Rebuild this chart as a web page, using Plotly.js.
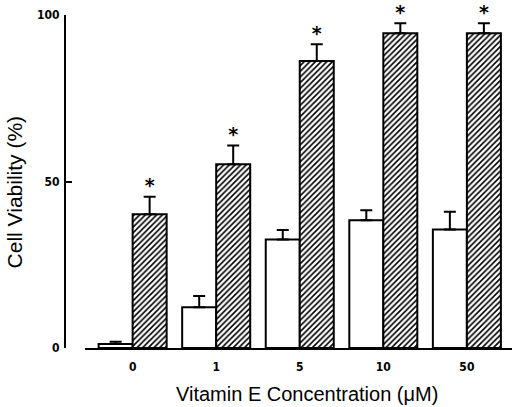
<!DOCTYPE html>
<html>
<head>
<meta charset="utf-8">
<script src="https://cdn.plot.ly/plotly-3.0.1.min.js"></script>
<style>html,body{margin:0;padding:0;background:#fff;}#chart{width:512px;height:407px;}</style>
</head>
<body>
<div id="chart"></div>
<script>
const categories = ['0', '1', '5', '10', '50'];
const controlValues = [1.2, 12.2, 32.6, 38.4, 35.6];
const controlErrors = [0.7, 3.4, 2.8, 3.0, 5.3];
const vitEValues = [40.2, 55.2, 86.2, 94.5, 94.5];
const vitEErrors = [5.2, 5.6, 5.0, 3.0, 3.0];
const significant = [true, true, true, true, true];
const yTickValues = [0, 50, 100];
const xTitle = 'Vitamin E Concentration (\u03BCM)';
const yTitle = 'Cell Viability (%)';

const bargap = 0.186;
const xIdx = categories.map((c, i) => i);
const barOffset = (1 - bargap) / 4;
const zeros = categories.map(() => 0);

const control = {
  type: 'bar', x: xIdx, y: controlValues, name: 'Control',
  marker: {color: 'white', line: {color: 'black', width: 2}},
  error_y: {type: 'data', symmetric: false, array: controlErrors, arrayminus: zeros,
            color: 'black', thickness: 2, width: 6},
  hoverinfo: 'skip'
};
const vitE = {
  type: 'bar', x: xIdx, y: vitEValues, name: 'Vitamin E',
  marker: {color: 'white', line: {color: 'black', width: 2},
           pattern: {shape: '/', fgcolor: 'black', bgcolor: 'white', size: 4, solidity: 0.4}},
  error_y: {type: 'data', symmetric: false, array: vitEErrors, arrayminus: zeros,
            color: 'black', thickness: 2, width: 6},
  hoverinfo: 'skip'
};
const starX = [], starY = [];
significant.forEach((s, i) => { if (s) { starX.push(i + barOffset); starY.push(vitEValues[i] + vitEErrors[i]); } });
const stars = {
  type: 'scatter', mode: 'text', x: starX, y: starY, text: starX.map(() => '*'),
  textposition: 'top center', textfont: {family: 'DejaVu Sans', size: 19, weight: 'bold', color: 'black'},
  hoverinfo: 'skip', cliponaxis: false
};

const tickFont = {family: 'Liberation Sans Narrow, DejaVu Sans Condensed', size: 12, weight: 'bold', color: 'black'};
const titleFont = {family: 'Liberation Sans, Arial', size: 20, color: 'black'};

const layout = {
  width: 512, height: 407,
  margin: {l: 65, r: 0, t: 15, b: 59},
  paper_bgcolor: 'white', plot_bgcolor: 'white',
  showlegend: false,
  barmode: 'group', bargap: bargap, bargroupgap: 0,
  xaxis: {
    domain: [20 / 447, 1], range: [-0.57, 4.54],
    tickvals: xIdx, ticktext: categories, ticks: '',
    showline: true, linecolor: 'black', linewidth: 2,
    showgrid: false, zeroline: false, ticklabelstandoff: 7,
    tickfont: tickFont
  },
  yaxis: {
    anchor: 'free', position: 0, range: [0, 100],
    tickvals: yTickValues, ticks: 'inside', ticklen: 6, tickwidth: 2, tickcolor: 'black',
    showline: true, linecolor: 'black', linewidth: 2,
    showgrid: false, zeroline: false, ticklabelstandoff: 2,
    tickfont: tickFont
  },
  annotations: [
    {text: xTitle, xref: 'paper', yref: 'paper', x: 0.5425, y: -0.138,
     xanchor: 'center', yanchor: 'middle', showarrow: false, font: titleFont},
    {text: yTitle, xref: 'paper', yref: 'paper', x: -0.112, y: 0.47, textangle: -90,
     xanchor: 'center', yanchor: 'middle', showarrow: false, font: Object.assign({}, titleFont, {size: 21})}
  ]
};

Plotly.newPlot('chart', [control, vitE, stars], layout, {displayModeBar: false, staticPlot: true});
</script>
</body>
</html>
